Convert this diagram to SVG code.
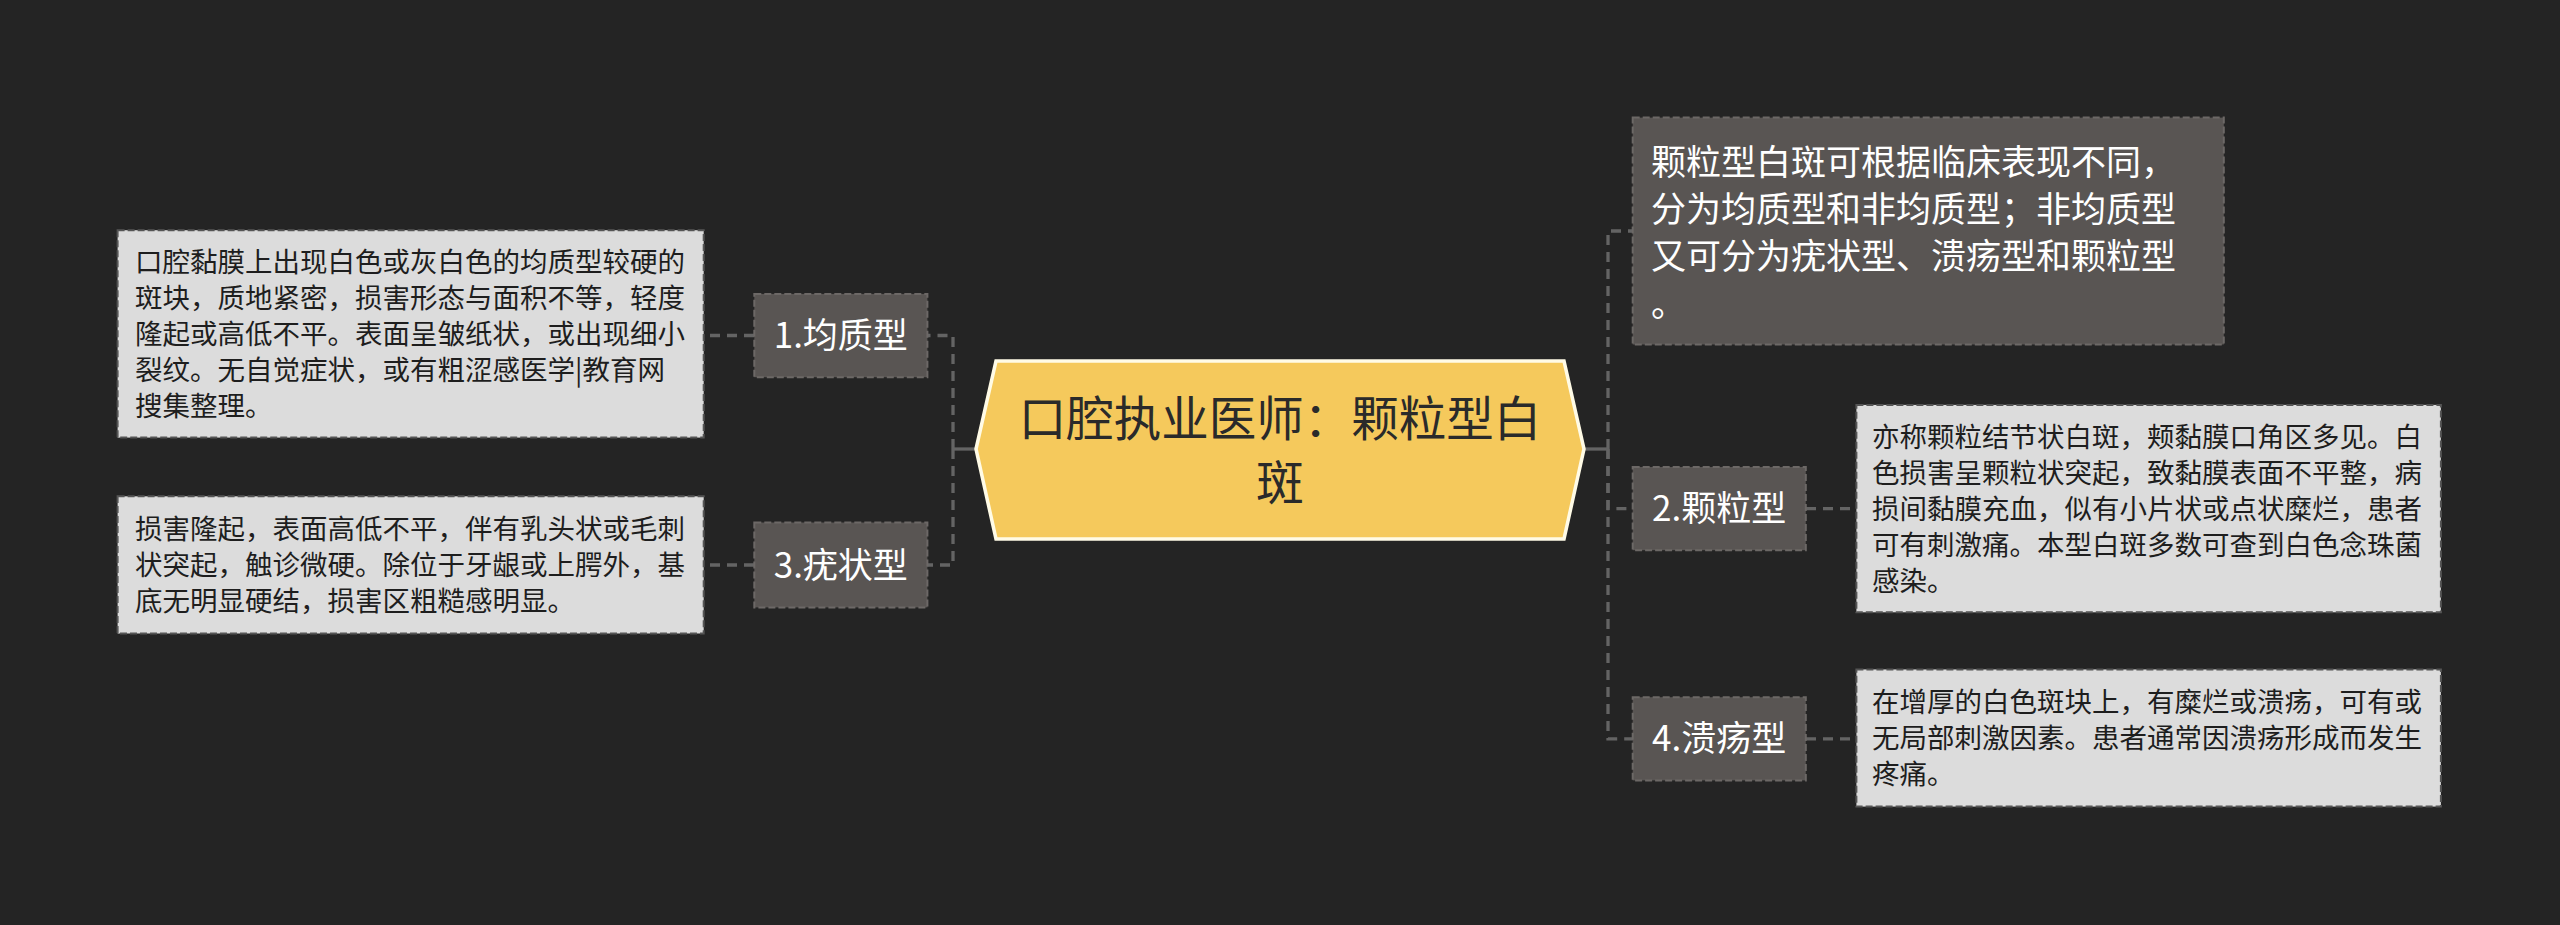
<svg xmlns="http://www.w3.org/2000/svg" width="2560" height="925" viewBox="0 0 2560 925">
<style>
.bg{fill:#242424}
.conn{fill:none;stroke:#646464;stroke-width:3.3;stroke-dasharray:10 7}
.solid{fill:none;stroke:#646464;stroke-width:3.3}
.cat{fill:#595553;stroke:#6c6866;stroke-width:2;stroke-dasharray:7 3}
.leaf{fill:#dcdcdc;stroke:#555;stroke-width:2;stroke-dasharray:7 3}
.t{font-family:"Noto Sans CJK SC","Noto Sans",sans-serif}
.ct{font-size:35px;fill:#ffffff}
.lt{font-size:27.5px;fill:#1e1e1e}
.mt{font-size:47.5px;fill:#2a2a2a}
</style>
<rect class="bg" x="0" y="0" width="2560" height="925"/>
<g id="connectors">
<path class="solid" d="M976,449 H953"/>
<path class="conn" d="M953,449 V335.5 H927"/>
<path class="conn" d="M953,449 V565 H927"/>
<path class="conn" d="M754,335.5 H704"/>
<path class="conn" d="M754,565 H704"/>
<path class="solid" d="M1584,449 H1608"/>
<path class="conn" d="M1608,449 V231 H1633"/>
<path class="conn" d="M1608,449 V508.6 H1633"/>
<path class="conn" d="M1608,449 V738.8 H1633"/>
<path class="conn" d="M1806,508.6 H1856"/>
<path class="conn" d="M1806,738.8 H1856"/>
</g>
<g id="center">
<polygon points="976,449 996,361 1564,361 1584,449 1564,539 996,539" fill="#f5c95c" stroke="#fffbe6" stroke-width="3.5"/>
<text class="t mt" text-anchor="middle"><tspan x="1280" y="436">口腔执业医师：颗粒型白</tspan><tspan x="1280" y="500">斑</tspan></text>
</g>
<g id="cat1">
<rect class="cat" x="754.3" y="293.9" width="173.1" height="83.3"/>
<text class="t ct" x="840.8" y="348" text-anchor="middle">1.均质型</text>
</g>
<g id="leaf1">
<rect class="leaf" x="117.6" y="230.2" width="586.1" height="207.4"/>
<text class="t lt"><tspan x="135" y="272">口腔黏膜上出现白色或灰白色的均质型较硬的</tspan><tspan x="135" y="308">斑块，质地紧密，损害形态与面积不等，轻度</tspan><tspan x="135" y="344">隆起或高低不平。表面呈皱纸状，或出现细小</tspan><tspan x="135" y="380">裂纹。无自觉症状，或有粗涩感医学|教育网</tspan><tspan x="135" y="416">搜集整理。</tspan></text>
</g>
<g id="cat3">
<rect class="cat" x="754.3" y="522.5" width="173.1" height="84.9"/>
<text class="t ct" x="840.8" y="577.5" text-anchor="middle">3.疣状型</text>
</g>
<g id="leaf3">
<rect class="leaf" x="117.6" y="496.3" width="586.1" height="137.2"/>
<text class="t lt"><tspan x="135" y="539">损害隆起，表面高低不平，伴有乳头状或毛刺</tspan><tspan x="135" y="575">状突起，触诊微硬。除位于牙龈或上腭外，基</tspan><tspan x="135" y="611">底无明显硬结，损害区粗糙感明显。</tspan></text>
</g>
<g id="topright">
<rect class="cat" x="1632.7" y="117.6" width="591.1" height="226.9"/>
<text class="t ct"><tspan x="1651" y="175">颗粒型白斑可根据临床表现不同，</tspan><tspan x="1651" y="222">分为均质型和非均质型；非均质型</tspan><tspan x="1651" y="269">又可分为疣状型、溃疡型和颗粒型</tspan><tspan x="1651" y="317">。</tspan></text>
</g>
<g id="cat2">
<rect class="cat" x="1632.7" y="467" width="173.1" height="83.2"/>
<text class="t ct" x="1719.2" y="521" text-anchor="middle">2.颗粒型</text>
</g>
<g id="leaf2">
<rect class="leaf" x="1856.4" y="404.9" width="584.5" height="207.4"/>
<text class="t lt"><tspan x="1872" y="447">亦称颗粒结节状白斑，颊黏膜口角区多见。白</tspan><tspan x="1872" y="483">色损害呈颗粒状突起，致黏膜表面不平整，病</tspan><tspan x="1872" y="519">损间黏膜充血，似有小片状或点状糜烂，患者</tspan><tspan x="1872" y="555">可有刺激痛。本型白斑多数可查到白色念珠菌</tspan><tspan x="1872" y="591">感染。</tspan></text>
</g>
<g id="cat4">
<rect class="cat" x="1632.7" y="697.2" width="173.1" height="83.2"/>
<text class="t ct" x="1719.2" y="751" text-anchor="middle">4.溃疡型</text>
</g>
<g id="leaf4">
<rect class="leaf" x="1856.4" y="669.4" width="584.5" height="137.2"/>
<text class="t lt"><tspan x="1872" y="712">在增厚的白色斑块上，有糜烂或溃疡，可有或</tspan><tspan x="1872" y="748">无局部刺激因素。患者通常因溃疡形成而发生</tspan><tspan x="1872" y="784">疼痛。</tspan></text>
</g>
</svg>
